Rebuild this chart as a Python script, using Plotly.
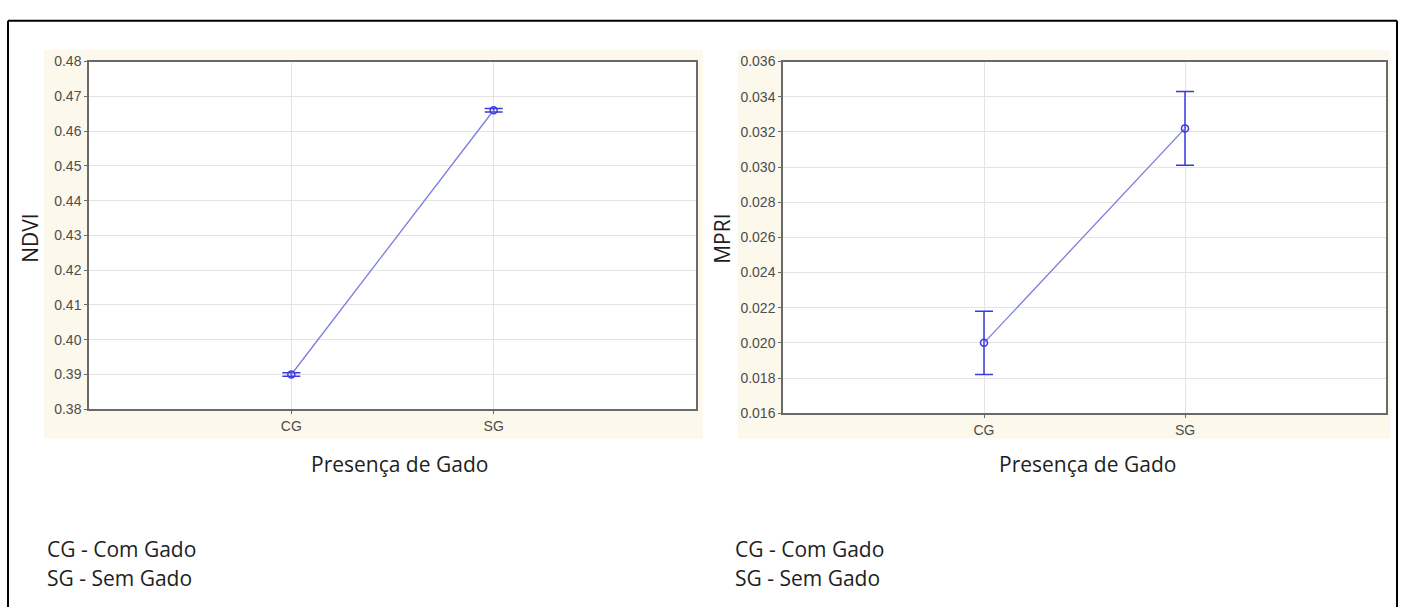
import plotly.graph_objects as go

# Group means and error half-widths per index
categories = ["CG", "SG"]
ndvi_mean = [0.390, 0.466]
ndvi_err = [0.0005, 0.0005]
mpri_mean = [0.0200, 0.0322]
mpri_err = [0.0018, 0.0021]

ndvi_ticks = [0.38, 0.39, 0.40, 0.41, 0.42, 0.43, 0.44, 0.45, 0.46, 0.47, 0.48]
ndvi_ticklabels = ["0.38", "0.39", "0.40", "0.41", "0.42", "0.43", "0.44", "0.45", "0.46", "0.47", "0.48"]
mpri_ticks = [0.016, 0.018, 0.020, 0.022, 0.024, 0.026, 0.028, 0.030, 0.032, 0.034, 0.036]
mpri_ticklabels = ["0.016", "0.018", "0.020", "0.022", "0.024", "0.026", "0.028", "0.030", "0.032", "0.034", "0.036"]

x_title = "Presença de Gado"
legend_lines = ["CG - Com Gado", "SG - Sem Gado"]

W, H = 1405, 615
px = lambda v: v / W
py = lambda v: 1 - v / H

LINE_COL = "#7b7be0"
MARK_COL = "#3a3ae0"
TICK_FONT = dict(family="Liberation Sans, Arial, sans-serif", size=14, color="#4d4d4d")
TEXT_FONT = dict(family="Open Sans, sans-serif", size=21, color="#1e1e1e")

fig = go.Figure()

def add_series(y, err, xa, ya):
    fig.add_trace(go.Scatter(
        x=categories, y=y, xaxis=xa, yaxis=ya, mode="lines+markers",
        line=dict(color=LINE_COL, width=1.3),
        marker=dict(symbol="circle-open", size=7, color=MARK_COL, line=dict(width=1.5, color=MARK_COL)),
        error_y=dict(type="data", array=err, visible=True, color=MARK_COL, thickness=1.5, width=9),
        showlegend=False, hoverinfo="x+y",
    ))

add_series(ndvi_mean, ndvi_err, "x", "y")
add_series(mpri_mean, mpri_err, "x2", "y2")

axis_common = dict(showline=True, linecolor="#6a6a6a", linewidth=1.5, mirror=True,
                   showgrid=True, gridcolor="#e4e4e4", gridwidth=1,
                   ticks="outside", ticklen=3, tickcolor="#6a6a6a",
                   tickfont=TICK_FONT, zeroline=False, fixedrange=True)

fig.update_layout(
    width=W, height=H,
    margin=dict(l=0, r=0, t=0, b=0),
    paper_bgcolor="white", plot_bgcolor="white",
    xaxis=dict(domain=[px(89), px(696)], anchor="y", type="category",
               range=[-1, 2], **axis_common),
    yaxis=dict(domain=[py(412), py(55)], anchor="x", range=[0.38, 0.48],
               tickvals=ndvi_ticks, ticktext=ndvi_ticklabels, **axis_common),
    xaxis2=dict(domain=[px(783), px(1386)], anchor="y2", type="category",
                range=[-1, 2], **axis_common),
    yaxis2=dict(domain=[py(416), py(55)], anchor="x2", range=[0.016, 0.036],
                tickvals=mpri_ticks, ticktext=mpri_ticklabels, **axis_common),
)

shapes = []
# cream panels behind each plot, then white plotting areas on top
for (x0, x1) in [(44, 703), (738, 1390)]:
    shapes.append(dict(type="rect", xref="paper", yref="paper", layer="below",
                       x0=px(x0), x1=px(x1), y0=py(442), y1=py(43),
                       fillcolor="#fcf8ec", line=dict(width=0)))
for (x0, x1, yb) in [(89, 696, 412), (783, 1386, 416)]:
    shapes.append(dict(type="rect", xref="paper", yref="paper", layer="below",
                       x0=px(x0), x1=px(x1), y0=py(yb), y1=py(55),
                       fillcolor="white", line=dict(width=0)))
# outer frame (open at the bottom)
frame = dict(color="black", width=2)
shapes.append(dict(type="line", xref="paper", yref="paper", x0=px(8), x1=px(1397), y0=py(13), y1=py(13), line=frame))
shapes.append(dict(type="line", xref="paper", yref="paper", x0=px(8), x1=px(8), y0=py(13), y1=py(615), line=frame))
shapes.append(dict(type="line", xref="paper", yref="paper", x0=px(1397), x1=px(1397), y0=py(13), y1=py(615), line=frame))
fig.update_layout(shapes=shapes)

ann = []
ann.append(dict(text="NDVI", x=px(30), y=py(237), textangle=-90))
ann.append(dict(text="MPRI", x=px(722), y=py(237), textangle=-90))
ann.append(dict(text=x_title, x=px(399), y=py(468)))
ann.append(dict(text=x_title, x=px(1087), y=py(468)))
for x0 in (45, 733):
    for i, line in enumerate(legend_lines):
        ann.append(dict(text=line, x=px(x0), y=py(555 + 30 * i), xanchor="left"))
for a in ann:
    a.update(xref="paper", yref="paper", showarrow=False, font=TEXT_FONT)
    a.setdefault("xanchor", "center")
    a.setdefault("yanchor", "middle")
fig.update_layout(annotations=ann)

fig.write_html("out.html")
